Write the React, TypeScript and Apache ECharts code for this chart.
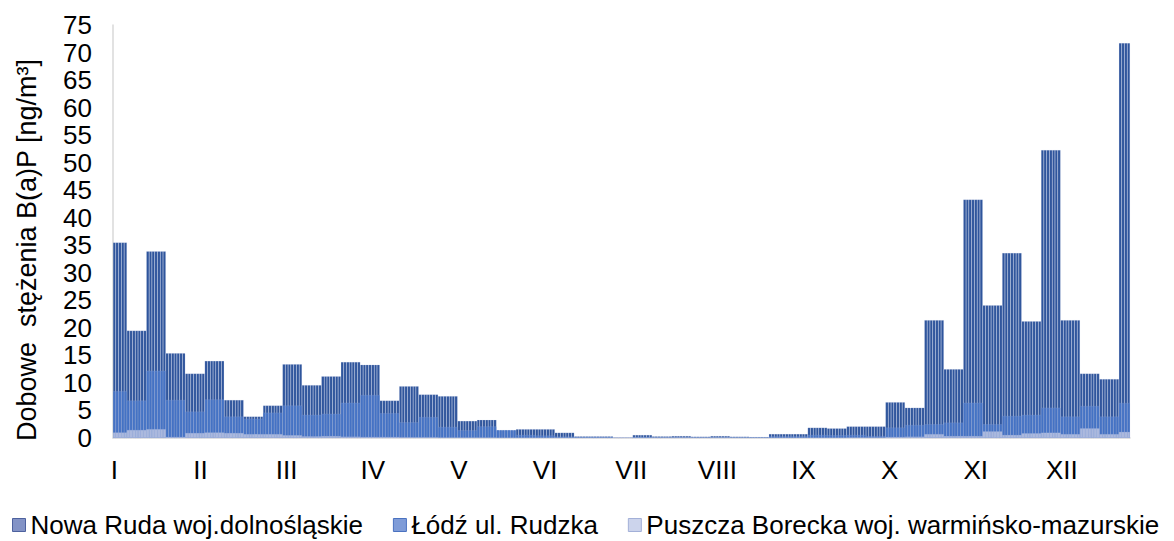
import React, { useEffect, useRef } from "react";
import * as echarts from "echarts";

// Month tick labels (shown every 31 days along the daily axis)
const monthLabels = ["I", "II", "III", "IV", "V", "VI", "VII", "VIII", "IX", "X", "XI", "XII"];

const seriesNames = [
  "Nowa Ruda woj.dolnośląskie",
  "Łódź ul. Rudzka",
  "Puszcza Borecka woj. warmińsko-mazurskie",
];

// Weekly B(a)P concentrations [ng/m3]; each week (Mon–Sun) of 2020, the first and last partial
const nowaRudaWeekly = [
  35.5, 19.5, 33.9, 15.4, 11.7, 14.0, 6.9, 3.9, 5.9, 13.4,
  9.6, 11.2, 13.8, 13.3, 6.8, 9.4, 7.9, 7.6, 3.1, 3.3,
  1.4, 1.6, 1.6, 0.97, 0.3, 0.3, 0.12, 0.55, 0.3, 0.36,
  0.25, 0.36, 0.25, 0.2, 0.73, 0.73, 1.88, 1.75, 2.1, 2.1,
  6.5, 5.5, 21.4, 12.5, 43.3, 24.1, 33.6, 21.2, 52.3, 21.4,
  11.7, 10.7, 71.7,
];

const lodzWeekly = [
  8.5, 6.8, 12.2, 6.9, 4.8, 7.0, 3.9, 3.5, 4.6, 5.9,
  4.2, 4.4, 6.4, 7.8, 4.5, 2.85, 3.8, 2.0, 1.4, 2.1,
  1.45, 0.55, 0.45, 0.25, 0.2, 0.2, 0.1, 0.2, 0.15, 0.15,
  0.15, 0.15, 0.15, 0.15, 0.3, 0.3, 0.55, 0.5, 0.55, 0.35,
  1.9, 2.35, 2.5, 2.8, 6.4, 2.5, 4.0, 4.2, 5.5, 3.9,
  5.8, 3.9, 6.35,
];

const puszczaWeekly = [
  1.0, 1.45, 1.6, 0.2, 0.9, 1.0, 0.9, 0.7, 0.7, 0.5,
  0.3, 0.35, 0.25, 0.2, 0.2, 0.15, 0.15, 0.1, 0.1, 0.1,
  0.05, 0.05, 0.05, 0.05, 0.05, 0.05, 0.05, 0.05, 0.05, 0.05,
  0.05, 0.05, 0.05, 0.05, 0.05, 0.05, 0.05, 0.05, 0.1, 0.1,
  0.2, 0.25, 0.7, 0.35, 0.35, 1.2, 0.55, 0.85, 0.97, 0.7,
  1.75, 0.7, 1.1,
];

const YEAR = 2020;

// Calendar days of the year and the week (Mon-start) each belongs to
function buildDays() {
  const days: string[] = [];
  const weekOf: number[] = [];
  let week = 0;
  const d = new Date(Date.UTC(YEAR, 0, 1));
  while (d.getUTCFullYear() === YEAR) {
    if (d.getUTCDay() === 1 && days.length > 0) week += 1;
    days.push(d.toISOString().slice(0, 10));
    weekOf.push(week);
    d.setUTCDate(d.getUTCDate() + 1);
  }
  return { days, weekOf };
}

const FONT = "'Liberation Sans', Arial, sans-serif";

export default function App() {
  const ref = useRef<HTMLDivElement>(null);

  useEffect(() => {
    if (!ref.current) return;
    const chart = echarts.init(ref.current, undefined, { renderer: "svg" });
    const { days, weekOf } = buildDays();
    const daily = (weekly: number[]) => weekOf.map((w) => weekly[w]);

    const colors = ["#2F559C", "#4472C4", "#AAB8DD"];
    const legendIcons = [
      { color: "#8393C6", borderColor: "#4D619E" },
      { color: "#7F9CD8", borderColor: "#4A72C0" },
      { color: "#CCD4EC", borderColor: "#A3B0D8" },
    ];
    const weeklySets = [nowaRudaWeekly, lodzWeekly, puszczaWeekly];

    chart.setOption({
      animation: false,
      textStyle: { fontFamily: FONT },
      grid: { left: 113, right: 44, top: 25, bottom: 103, containLabel: false },
      legend: {
        left: 7,
        top: 507,
        itemWidth: 13,
        itemHeight: 13,
        itemGap: 30,
        icon: "rect",
        textStyle: { fontSize: 26, color: "#000", fontFamily: FONT },
        data: seriesNames.map((name, i) => ({
          name,
          itemStyle: { ...legendIcons[i], borderWidth: 1 },
        })),
      },
      xAxis: {
        type: "category",
        data: days,
        boundaryGap: true,
        axisLine: { show: true, lineStyle: { color: "#D9D9D9", width: 1.5 } },
        axisTick: { show: false },
        axisLabel: {
          interval: 30,
          fontSize: 26,
          color: "#000",
          margin: 19,
          fontFamily: FONT,
          formatter: (_v: string, idx: number) => monthLabels[Math.floor(idx / 31)] ?? "",
        },
        splitLine: { show: false },
      },
      yAxis: {
        type: "value",
        min: 0,
        max: 75,
        interval: 5,
        axisLine: { show: true, lineStyle: { color: "#D9D9D9", width: 1.5 } },
        axisTick: { show: false },
        splitLine: { show: false },
        axisLabel: { fontSize: 26, color: "#000", margin: 21, fontFamily: FONT },
      },
      graphic: [
        {
          type: "text",
          x: 27,
          y: 250,
          rotation: Math.PI / 2,
          style: {
            text: "Dobowe  stężenia B(a)P [ng/m³]",
            font: `27px ${FONT}`,
            fill: "#000",
            textAlign: "center",
            textVerticalAlign: "middle",
          },
        },
      ],
      series: seriesNames.map((name, i) => ({
        name,
        type: "bar",
        data: daily(weeklySets[i]),
        barGap: "-100%",
        barCategoryGap: "0%",
        itemStyle: {
          color: colors[i],
          borderColor: "rgba(205,214,238,0.35)",
          borderWidth: 0.4,
        },
        emphasis: { disabled: true },
      })),
    });

    return () => chart.dispose();
  }, []);

  return (
    <div
      ref={ref}
      style={{ position: "fixed", left: 0, top: 0, width: 1174, height: 541, background: "#fff" }}
    />
  );
}
